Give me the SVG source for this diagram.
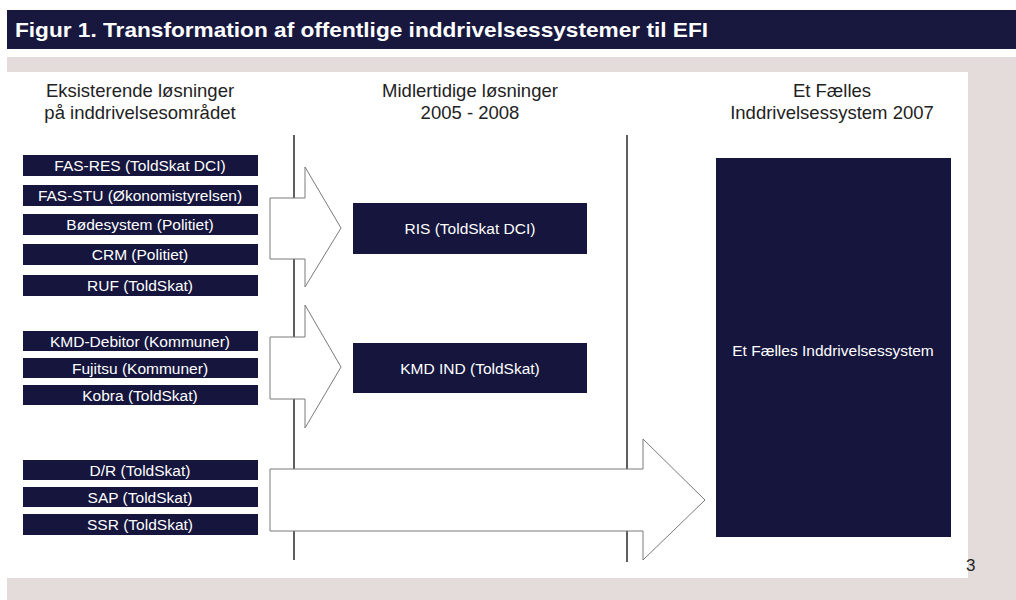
<svg xmlns="http://www.w3.org/2000/svg" width="1016" height="600" viewBox="0 0 1016 600">
  <defs>
    <style>
      .bar { fill: #18183f; }
      .box { fill: #15153d; }
      .lbl { font-family: "Liberation Sans", Arial, sans-serif; font-size: 15.5px; fill: #ffffff; text-anchor: middle; }
      .hdr { font-family: "Liberation Sans", Arial, sans-serif; font-size: 18.5px; fill: #222222; text-anchor: middle; }
      .arrow { fill: #ffffff; stroke: #7a7a7a; stroke-width: 1; }
      .divider { stroke: #2a2a2a; stroke-width: 1.5; fill: none; }
    </style>
  </defs>

  <!-- page background -->
  <rect x="0" y="0" width="1016" height="600" fill="#ffffff"/>

  <!-- title bar -->
  <rect class="bar" x="7" y="10" width="1009" height="39"/>
  <text x="15" y="37" font-family="Liberation Sans, Arial, sans-serif" font-size="21" font-weight="bold" fill="#ffffff" textLength="693" lengthAdjust="spacingAndGlyphs">Figur 1. Transformation af offentlige inddrivelsessystemer til EFI</text>

  <!-- figure frame -->
  <rect x="7" y="57" width="1009" height="543" fill="#e3dcda"/>
  <rect x="7" y="72" width="961" height="506" fill="#ffffff"/>
  <text x="966" y="571" font-family="Liberation Sans, Arial, sans-serif" font-size="17" fill="#222222">3</text>

  <!-- column headings -->
  <g id="headings">
    <text class="hdr" x="140" y="97">Eksisterende løsninger</text>
    <text class="hdr" x="140" y="119">på inddrivelsesområdet</text>
    <text class="hdr" x="470" y="97">Midlertidige løsninger</text>
    <text class="hdr" x="470" y="119">2005 - 2008</text>
    <text class="hdr" x="832" y="97">Et Fælles</text>
    <text class="hdr" x="832" y="119">Inddrivelsessystem 2007</text>
  </g>

  <!-- connectors: phase dividers and transition arrows -->
  <g id="connectors">
    <line class="divider" x1="294" y1="135" x2="294" y2="560"/>
    <line class="divider" x1="627" y1="135" x2="627" y2="562"/>
    <polygon class="arrow" points="270,198 305,198 305,167 341,228 305,287 305,259 270,259"/>
    <polygon class="arrow" points="270,337 305,337 305,305 341,367 305,428 305,399 270,399"/>
    <polygon class="arrow" points="270,469 643,469 643,439 705,500 643,560 643,531 270,531"/>
  </g>

  <!-- existing systems -->
  <g id="fas-res"><rect class="box" x="23" y="155" width="235" height="21"/><text class="lbl" x="140" y="171">FAS-RES (ToldSkat DCI)</text></g>
  <g id="fas-stu"><rect class="box" x="23" y="185" width="235" height="21"/><text class="lbl" x="140" y="201">FAS-STU (Økonomistyrelsen)</text></g>
  <g id="boedesystem"><rect class="box" x="23" y="214" width="235" height="21"/><text class="lbl" x="140" y="230">Bødesystem (Politiet)</text></g>
  <g id="crm"><rect class="box" x="23" y="244" width="235" height="21"/><text class="lbl" x="140" y="260">CRM (Politiet)</text></g>
  <g id="ruf"><rect class="box" x="23" y="275" width="235" height="21"/><text class="lbl" x="140" y="291">RUF (ToldSkat)</text></g>
  <g id="kmd-debitor"><rect class="box" x="23" y="331" width="235" height="20"/><text class="lbl" x="140" y="346.5">KMD-Debitor (Kommuner)</text></g>
  <g id="fujitsu"><rect class="box" x="23" y="358" width="235" height="20"/><text class="lbl" x="140" y="373.5">Fujitsu (Kommuner)</text></g>
  <g id="kobra"><rect class="box" x="23" y="385" width="235" height="20"/><text class="lbl" x="140" y="400.5">Kobra (ToldSkat)</text></g>
  <g id="dr"><rect class="box" x="23" y="460" width="235" height="20"/><text class="lbl" x="140" y="475.5">D/R (ToldSkat)</text></g>
  <g id="sap"><rect class="box" x="23" y="487" width="235" height="20"/><text class="lbl" x="140" y="502.5">SAP (ToldSkat)</text></g>
  <g id="ssr"><rect class="box" x="23" y="514" width="235" height="21"/><text class="lbl" x="140" y="530">SSR (ToldSkat)</text></g>

  <!-- interim systems -->
  <g id="ris"><rect class="box" x="353" y="203" width="234" height="51"/><text class="lbl" x="470" y="234">RIS (ToldSkat DCI)</text></g>
  <g id="kmd-ind"><rect class="box" x="353" y="343" width="234" height="50"/><text class="lbl" x="470" y="373.5">KMD IND (ToldSkat)</text></g>

  <!-- common system -->
  <g id="efi"><rect class="box" x="716" y="158" width="235" height="379"/><text class="lbl" x="833" y="356">Et Fælles Inddrivelsessystem</text></g>
</svg>
